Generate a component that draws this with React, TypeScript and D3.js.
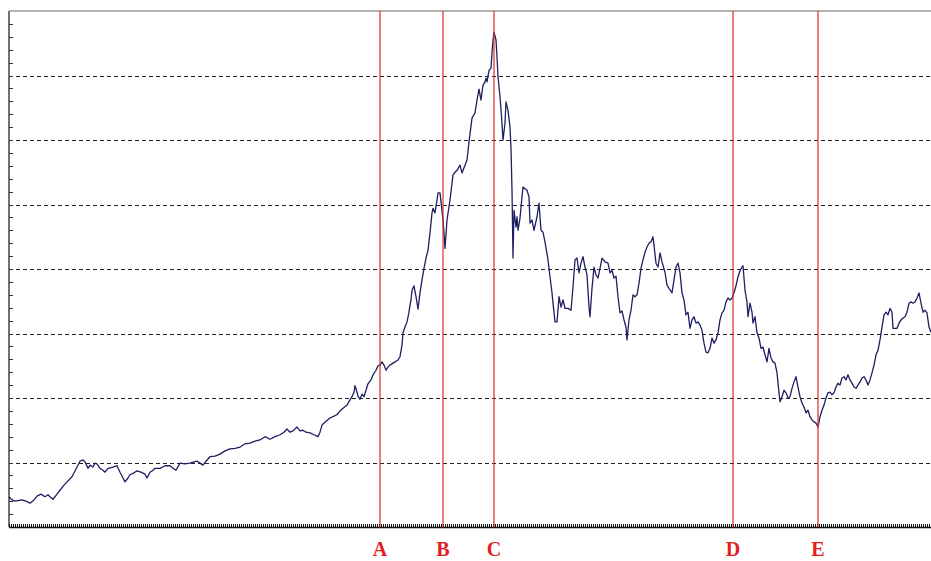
import React from "react";
import * as d3 from "d3";

const W = 931;
const H = 561;

// time index (weeks) and level values
const times = [
  0, 1.5, 3, 6.5, 8.5, 10.5, 12.5, 14, 16, 18, 19.5, 20.5, 22, 24, 25.5, 27.5, 29, 31.5, 33.5, 35.5,
  37, 38, 39.5, 40.5, 42, 43, 44, 45.5, 47, 48, 49.5, 52, 54, 55.5, 57, 58, 59.5, 60.5, 62.5, 64,
  66, 68, 69, 70.5, 72, 73, 75.5, 78, 80.5, 82, 83.5, 85.5, 88, 90.5, 92.5, 94, 95.5, 97, 98.5, 100.5,
  103, 105.5, 108, 110.5, 113, 115.5, 118, 120.5, 123, 125.5, 128, 130.5, 133, 135.5, 137.5, 139, 140.5, 142, 144, 145.5,
  147, 148.5, 150.5, 152.5, 154.5, 155.5, 156.5, 158.5, 160.5, 162.5, 164, 165.5, 167, 169, 170.5, 171.5, 172.5, 173, 174, 174.5,
  175.5, 176.5, 177.5, 178.5, 179.5, 181, 182, 183.5, 184.5, 185.5, 186.5, 187.5, 188.5, 189.5, 190.5, 192, 193, 194.5, 195.5, 196.5,
  197, 198, 199, 200, 200.5, 201, 201.5, 202.5, 203.5, 204.5, 205.5, 206.5, 207.5, 208.5, 209.5, 210.5, 211.5, 212, 213, 214,
  214.5, 215.5, 216, 217, 217.5, 218, 219, 220.5, 222, 223, 224, 225.5, 226.5, 228, 229, 230, 231.5, 233, 234, 235,
  236, 237, 238, 238.5, 239, 240, 241, 241.5, 242, 242.5, 243.5, 244, 244.5, 245.5, 246.5, 247, 248, 248.5, 249.5, 250.5,
  251, 251.5, 252, 252.5, 253.5, 254, 254.5, 255.5, 256.5, 257, 259, 260, 260.5, 261.5, 262.5, 264, 265, 266, 267, 268,
  269.5, 270.5, 271.5, 272, 273, 274, 275, 276, 277, 278, 279.5, 281, 282, 283, 284, 285, 286, 287, 288, 289,
  290, 290.5, 291.5, 292.5, 293.5, 294.5, 295.5, 296.5, 298, 299.5, 300.5, 301.5, 302.5, 303.5, 304.5, 305.5, 306.5, 307.5, 308.5, 309,
  310, 311, 312, 313, 314, 315, 316, 317, 318, 319, 320, 321, 322, 322.5, 323.5, 324.5, 325.5, 326.5, 328, 329,
  330, 331.5, 332.5, 333.5, 334.5, 335.5, 336.5, 337.5, 338.5, 339.5, 340.5, 341.5, 342.5, 343.5, 344.5, 345.5, 346.5, 347.5, 348.5, 349.5,
  350.5, 351.5, 352.5, 353.5, 354.5, 355.5, 356.5, 357.5, 358.5, 359.5, 360.5, 361.5, 362.5, 363.5, 364.5, 365.5, 366.5, 367, 368, 369,
  369.5, 370.5, 371.5, 372, 373, 374, 375, 376, 377, 378, 379, 380, 381, 382, 383, 384, 385, 385.5, 386.5, 387.5,
  388.5, 389.5, 390.5, 391.5, 392.5, 393.5, 394.5, 395.5, 396.5, 397.5, 398.5, 399.5, 400.5, 401.5, 402.5, 403.5, 404.5, 405.5, 406.5, 407.5,
  408.5, 409.5, 410.5, 411.5, 412.5, 413.5, 414.5, 415.5, 416.5, 417.5, 418.5, 419.5, 420.5, 421.5, 422.5, 423.5, 424.5, 425.5, 426.5, 427.5,
  428.5, 429.5, 430.5, 431.5, 432.5, 433.5, 434.5, 435.5, 436.5, 437.5, 438.5, 439.5, 440.5, 441.5, 442, 443, 444, 445, 446, 447,
  448, 449, 450, 451, 452, 453, 454, 455, 456, 457, 458, 459, 460, 461,
];

const values = [
  47, 42, 40, 42, 40, 37, 42, 48, 51, 47, 50, 47, 43, 51, 57, 65, 70, 78, 90, 102,
  104, 101, 91, 96, 93, 99, 98, 91, 88, 85, 91, 93, 95, 85, 76, 70, 76, 81, 84, 87,
  85, 82, 76, 85, 88, 91, 91, 95, 95, 91, 88, 99, 98, 99, 101, 102, 99, 96, 102, 109,
  110, 113, 118, 121, 122, 124, 129, 130, 133, 135, 140, 136, 140, 143, 147, 152, 147, 149, 155, 149,
  150, 147, 146, 143, 140, 147, 158, 164, 169, 172, 174, 180, 184, 189, 197, 202, 209, 219, 209, 203,
  198, 206, 202, 212, 222, 228, 236, 243, 250, 251, 256, 251, 243, 248, 251, 254, 256, 259, 264, 282,
  301, 310, 318, 333, 344, 352, 367, 374, 357, 338, 363, 383, 401, 417, 429, 456, 487, 494, 487, 507,
  518, 518, 504, 476, 456, 432, 476, 507, 546, 550, 553, 561, 549, 561, 569, 597, 634, 642, 662, 679,
  662, 685, 690, 696, 690, 708, 711, 735, 755, 767, 755, 729, 698, 667, 626, 600, 626, 659, 646, 620,
  587, 522, 417, 491, 465, 481, 460, 479, 512, 527, 522, 512, 471, 476, 460, 481, 502, 460, 457, 442,
  414, 388, 363, 347, 318, 318, 357, 341, 352, 339, 339, 336, 372, 414, 417, 394, 409, 419, 403, 391,
  341, 326, 370, 403, 391, 386, 401, 417, 411, 409, 394, 398, 386, 389, 357, 332, 335, 321, 310, 290,
  321, 336, 360, 357, 360, 378, 401, 414, 426, 434, 440, 442, 450, 437, 409, 403, 425, 411, 395, 375,
  370, 363, 383, 403, 409, 394, 363, 352, 329, 333, 308, 321, 326, 316, 318, 313, 305, 285, 271, 270,
  277, 293, 285, 290, 301, 321, 332, 336, 349, 355, 352, 355, 363, 374, 388, 397, 403, 405, 367, 349,
  326, 347, 333, 316, 326, 301, 293, 277, 279, 267, 256, 277, 262, 256, 254, 239, 208, 194, 202, 212,
  208, 200, 202, 215, 225, 233, 217, 202, 192, 186, 177, 181, 171, 166, 163, 161, 155, 171, 181, 189,
  200, 208, 209, 205, 208, 217, 223, 220, 231, 233, 228, 236, 228, 223, 217, 215, 220, 225, 231, 233,
  228, 220, 228, 239, 251, 267, 274, 290, 310, 329, 333, 329, 339, 333, 308, 308, 308, 316, 321, 324,
  326, 333, 347, 349, 347, 349, 355, 363, 347, 333, 336, 332, 310, 302,
];

const gridLevels = [100, 200, 300, 400, 500, 600, 700];
const markerLabels = ["A", "B", "C", "D", "E"];
const markerTimes = [185.5, 217, 242.5, 362, 404.5];

const X0 = 9;
const X1 = 931;
const Y_TOP = 11;
const Y_BOT = 527;

export default function App() {
  const x = d3.scaleLinear().domain([0, 461]).range([X0, X1]);
  const y = d3.scaleLinear().domain([0, 800]).range([Y_BOT, Y_TOP]);

  const pts: [number, number][] = times.map((t, i) => [t, values[i]]);
  const line = d3
    .line<[number, number]>()
    .x((d) => x(d[0]))
    .y((d) => y(d[1]));

  const minorY = d3.range(20, 800, 20);
  const minorX = d3.range(0, 462, 1);

  return (
    <div style={{ position: "fixed", left: 0, top: 0, width: W, height: H, background: "#fff" }}>
      <svg width={W} height={H} style={{ display: "block" }}>
        <rect x={0} y={0} width={W} height={H} fill="#fff" />
        {/* top border */}
        <line x1={X0} x2={X1} y1={Y_TOP} y2={Y_TOP} stroke="#9a9a9a" strokeWidth={1.5} />
        {/* grid */}
        {gridLevels.map((g) => (
          <line
            key={g}
            x1={X0}
            x2={X1}
            y1={Math.round(y(g)) + 0.5}
            y2={Math.round(y(g)) + 0.5}
            stroke="#222"
            strokeWidth={1}
            strokeDasharray="4,3"
          />
        ))}
        {/* left axis */}
        <line x1={X0} x2={X0} y1={Y_TOP} y2={Y_BOT} stroke="#444" strokeWidth={1.5} />
        {minorY.map((v) => (
          <line
            key={v}
            x1={X0}
            x2={X0 + 4}
            y1={Math.round(y(v)) + 0.5}
            y2={Math.round(y(v)) + 0.5}
            stroke="#333"
            strokeWidth={1}
          />
        ))}
        {/* bottom axis */}
        {minorX.map((t) => (
          <line
            key={t}
            x1={Math.round(x(t)) + 0.5}
            x2={Math.round(x(t)) + 0.5}
            y1={Y_BOT - 3}
            y2={Y_BOT}
            stroke="#111"
            strokeWidth={1}
          />
        ))}
        <line x1={X0} x2={X1} y1={Y_BOT + 0.5} y2={Y_BOT + 0.5} stroke="#111" strokeWidth={1.5} />
        {/* series */}
        <path d={line(pts) || ""} fill="none" stroke="#1e1e62" strokeWidth={1.3} strokeLinejoin="round" />
        {/* markers */}
        {markerTimes.map((t, i) => (
          <g key={markerLabels[i]}>
            <line
              x1={x(t)}
              x2={x(t)}
              y1={Y_TOP}
              y2={Y_BOT}
              stroke="#e02828"
              strokeWidth={1.2}
            />
            <text
              x={x(t)}
              y={556}
              textAnchor="middle"
              fill="#e41e1e"
              fontFamily="'Liberation Serif', 'DejaVu Serif', serif"
              fontWeight="bold"
              fontSize={20}
            >
              {markerLabels[i]}
            </text>
          </g>
        ))}
      </svg>
    </div>
  );
}
